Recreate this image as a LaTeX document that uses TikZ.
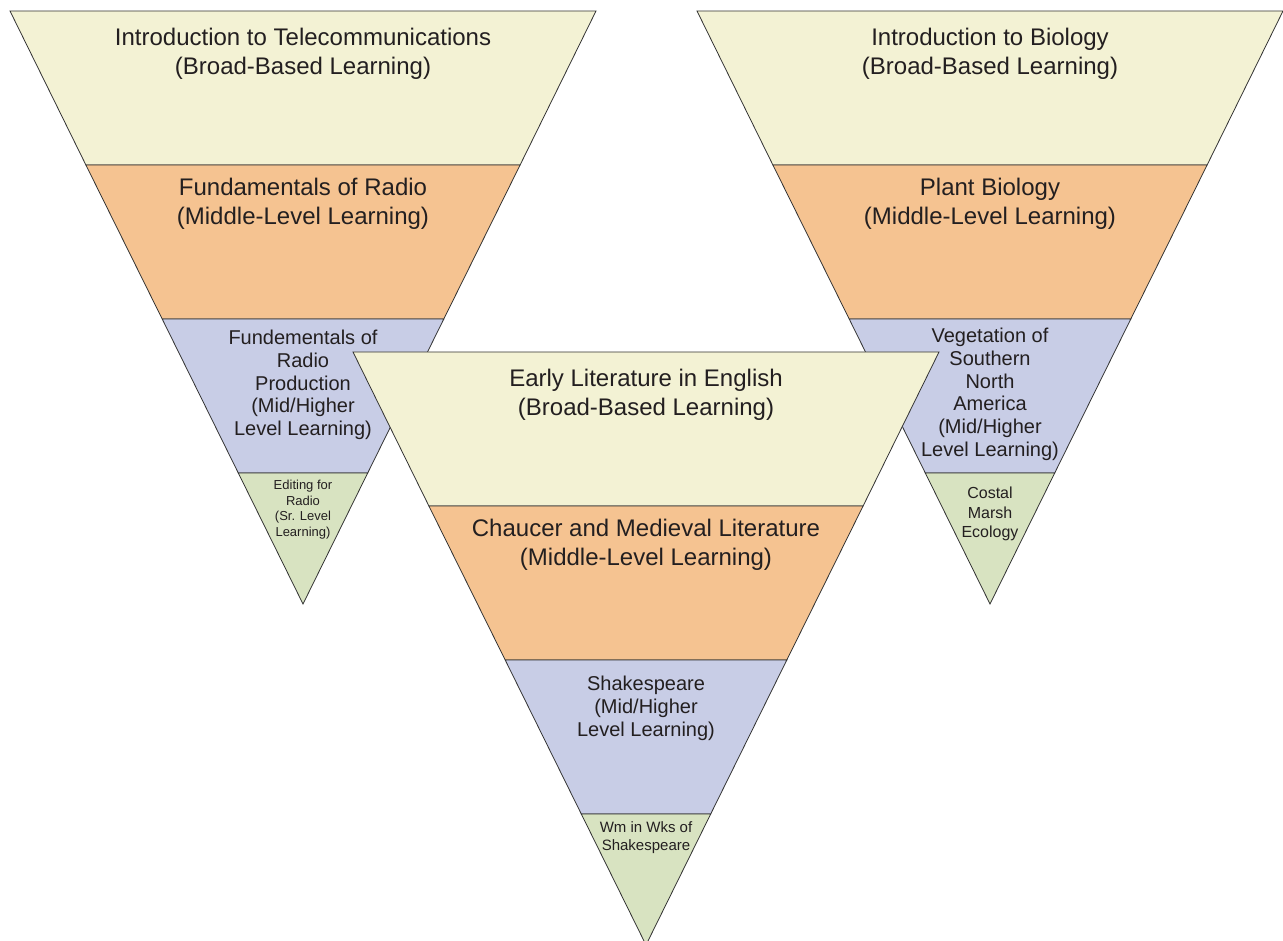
\documentclass[tikz,border=0pt]{standalone}
\usepackage{fontspec}
\setmainfont{Liberation Sans}
\definecolor{cbroad}{HTML}{F3F2D4}
\definecolor{cmid}{HTML}{F5C391}
\definecolor{chigh}{HTML}{C8CDE6}
\definecolor{csr}{HTML}{D8E3C1}
\definecolor{ink}{HTML}{231F20}
\definecolor{edge}{HTML}{333333}
\tikzset{
  band/.style={draw=edge, line width=0.8pt, line join=miter},
  txt/.style={inner sep=0pt, anchor=north, align=center, text=ink},
  big/.style={txt, font=\fontsize{24}{29}\selectfont},
  med/.style={txt, font=\fontsize{20}{22.7}\selectfont},
}
\newcommand\funnel[1]{%
  \begin{scope}[shift={#1}]
    \filldraw[band, fill=cbroad] (0,0) -- (586,0) -- (510.1,154) -- (75.9,154) -- cycle;
    \filldraw[band, fill=cmid] (75.9,154) -- (510.1,154) -- (433.8,308) -- (152.2,308) -- cycle;
    \filldraw[band, fill=chigh] (152.2,308) -- (433.8,308) -- (357.7,462) -- (228.3,462) -- cycle;
    \filldraw[band, fill=csr] (228.3,462) -- (357.7,462) -- (293,593) -- cycle;
  \end{scope}}
\begin{document}
\begin{tikzpicture}[x=1pt, y=-1pt]
  \clip (0,0) rectangle (1283,941);
  \useasboundingbox (0,0) rectangle (1283,941);
  \funnel{(10,11)}
  \funnel{(697,11)}
  \funnel{(353,352)}
  % left funnel texts
  \node[big] (l1) at (303,28) {Introduction to Telecommunications\\(Broad-Based Learning)};
  \node[big] (l2) at (303,178) {Fundamentals of Radio\\(Middle-Level Learning)};
  \node[med] (l3) at (303,330) {Fundementals of\\Radio\\Production\\(Mid/Higher\\Level Learning)};
  \node[txt, font=\fontsize{13}{15.5}\selectfont] (l4) at (303,480) {Editing for\\Radio\\(Sr. Level\\Learning)};
  % right funnel texts
  \node[big] (r1) at (990,28) {Introduction to Biology\\(Broad-Based Learning)};
  \node[big] (r2) at (990,178) {Plant Biology\\(Middle-Level Learning)};
  \node[med] (r3) at (990,328) {Vegetation of\\Southern\\North\\America\\(Mid/Higher\\Level Learning)};
  \node[txt, font=\fontsize{16}{19.5}\selectfont] (r4) at (990,487) {Costal\\Marsh\\Ecology};
  % middle funnel texts
  \node[big] (m1) at (646,369) {Early Literature in English\\(Broad-Based Learning)};
  \node[big] (m2) at (646,519) {Chaucer and Medieval Literature\\(Middle-Level Learning)};
  \node[med] (m3) at (646,676) {Shakespeare\\(Mid/Higher\\Level Learning)};
  \node[txt, font=\fontsize{15}{18}\selectfont] (m4) at (646,821) {Wm in Wks of\\Shakespeare};
\end{tikzpicture}
\end{document}
